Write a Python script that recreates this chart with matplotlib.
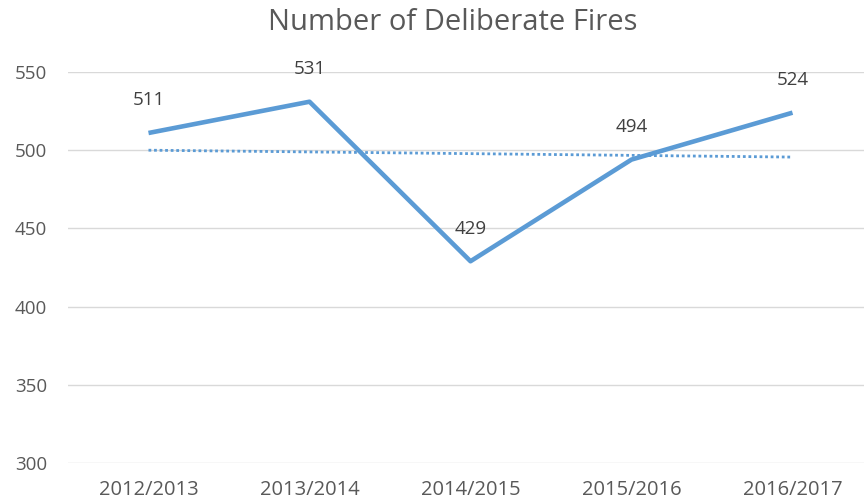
import numpy as np
import matplotlib
matplotlib.use("Agg")
import matplotlib.pyplot as plt

# deliberate fire counts per financial year
years = ["2012/2013", "2013/2014", "2014/2015", "2015/2016", "2016/2017"]
fires = [511, 531, 429, 494, 524]

plt.rcParams['font.family'] = ['Open Sans', 'DejaVu Sans']
text_grey = '#595959'
blue = '#5B9BD5'

fig = plt.figure(figsize=(8.64, 5.0), dpi=100)
# plot area runs off the right edge of the figure
ax = fig.add_axes([68/864, 37/500, 805/864, 391/500])

x = np.arange(len(years))
ax.plot(x, fires, color=blue, lw=3.3, solid_capstyle='butt', zorder=3)

# linear trendline fitted to the yearly counts
slope, icpt = np.polyfit(x, fires, 1)
ax.plot(x, slope * x + icpt, color=blue, lw=2.0, ls=(0, (1.0, 1.0)), zorder=2)

for xi, v in zip(x, fires):
    ax.annotate(str(v), (xi, v), xytext=(0, 17), textcoords='offset points',
                ha='center', va='bottom', fontsize=13.5, color='#404040')

ax.set_xlim(-0.5, len(years) - 0.5)
ax.set_ylim(300, 550)
ax.set_yticks(range(300, 551, 50))
ax.set_xticks(x)
ax.set_xticklabels(years)
ax.grid(axis='y', color='#D9D9D9', lw=1.0)
ax.set_axisbelow(True)
for s in ax.spines.values():
    s.set_visible(False)
ax.tick_params(length=0, labelcolor=text_grey)
ax.tick_params(axis='y', pad=15, labelsize=13.5)
ax.tick_params(axis='x', pad=12, labelsize=14.5)

fig.text(453/864, 1 - 23/500, "Number of Deliberate Fires", ha='center', va='center',
         fontsize=21, color=text_grey)

fig.savefig("out.png", dpi=100)
